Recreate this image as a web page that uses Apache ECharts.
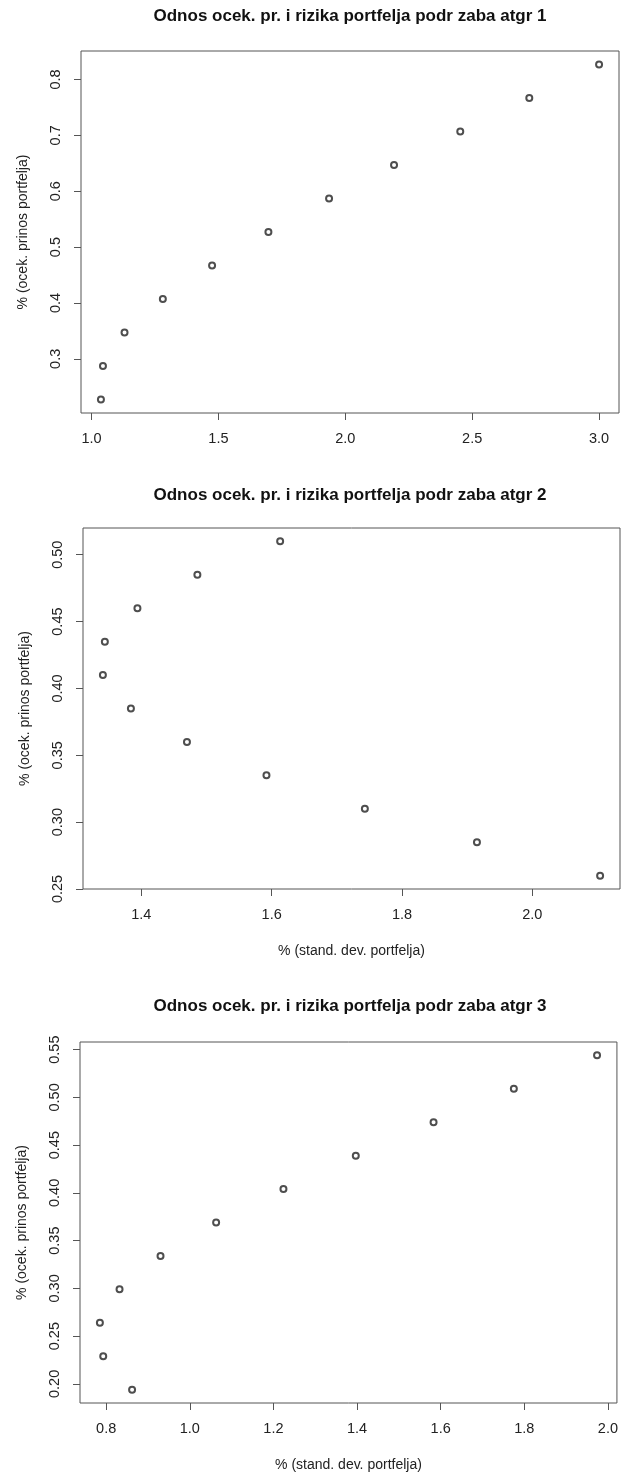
<!DOCTYPE html>
<html>
<head>
<meta charset="utf-8">
<script src="https://cdn.jsdelivr.net/npm/echarts@6/dist/echarts.min.js"></script>
<style>
  html, body { margin: 0; padding: 0; background: #fff; }
  #chart { width: 621px; height: 1476px; }
</style>
</head>
<body>
<div id="chart"></div>
<script>
// podaci ocitani sa slike (std. dev. -> ocek. prinos)
const titles = [
  "Odnos ocek. pr. i rizika portfelja podr zaba atgr 1",
  "Odnos ocek. pr. i rizika portfelja podr zaba atgr 2",
  "Odnos ocek. pr. i rizika portfelja podr zaba atgr 3",
];
const xName = "% (stand. dev. portfelja)";
const yName = "% (ocek. prinos portfelja)";

const sd1 = [1.037, 1.045, 1.130, 1.281, 1.475, 1.697, 1.936, 2.192, 2.453, 2.725, 3.000];
const ret1 = [0.227, 0.287, 0.347, 0.407, 0.467, 0.527, 0.587, 0.647, 0.707, 0.767, 0.827];

const sd2 = [2.104, 1.915, 1.743, 1.592, 1.470, 1.384, 1.341, 1.344, 1.394, 1.486, 1.613];
const ret2 = [0.260, 0.285, 0.310, 0.335, 0.360, 0.385, 0.410, 0.435, 0.460, 0.485, 0.510];

const sd3 = [0.862, 0.793, 0.785, 0.832, 0.930, 1.063, 1.224, 1.397, 1.583, 1.775, 1.974];
const ret3 = [0.194, 0.229, 0.264, 0.299, 0.334, 0.369, 0.404, 0.439, 0.474, 0.509, 0.544];

// tick labels
const xTicks1 = [1.0, 1.5, 2.0, 2.5, 3.0];
const yTicks1 = [0.3, 0.4, 0.5, 0.6, 0.7, 0.8];
const xTicks2 = [1.4, 1.6, 1.8, 2.0];
const yTicks2 = [0.25, 0.30, 0.35, 0.40, 0.45, 0.50];
const xTicks3 = [0.8, 1.0, 1.2, 1.4, 1.6, 1.8, 2.0];
const yTicks3 = [0.20, 0.25, 0.30, 0.35, 0.40, 0.45, 0.50, 0.55];

const panels = [
  { sd: sd1, ret: ret1, xt: xTicks1, yt: yTicks1, xd: 1, yd: 1, grid: { left: 81, top: 51, width: 538, height: 362 }, titleTop: 8, xLab: false },
  { sd: sd2, ret: ret2, xt: xTicks2, yt: yTicks2, xd: 1, yd: 2, grid: { left: 83, top: 528, width: 537, height: 361 }, titleTop: 487, xLab: true },
  { sd: sd3, ret: ret3, xt: xTicks3, yt: yTicks3, xd: 1, yd: 2, grid: { left: 80, top: 1042, width: 538, height: 361 }, titleTop: 998, xLab: true },
];

// R-style range: data extent plus 4% on each side
function rRange(arr) {
  const lo = Math.min(...arr), hi = Math.max(...arr);
  const pad = (hi - lo) * 0.04;
  return [lo - pad, hi + pad];
}

const font = "Liberation Sans, Arial, sans-serif";
const boxColor = "#555";

const chart = echarts.init(document.getElementById("chart"), null, { renderer: "canvas" });

let option = {
  animation: false,
  backgroundColor: "#fff",
  title: [],
  grid: [],
  xAxis: [],
  yAxis: [],
  series: [],
};

panels.forEach((p, i) => {
  const xr = rRange(p.sd);
  const yr = rRange(p.ret);
  option.title.push({
    text: titles[i],
    left: 350,
    top: p.titleTop,
    textAlign: "center",
    padding: 0,
    textStyle: { fontFamily: font, fontSize: 17, fontWeight: "bold", color: "#111" },
  });
  option.grid.push(Object.assign({ show: true, borderColor: boxColor, borderWidth: 1, backgroundColor: "transparent" }, p.grid));
  option.xAxis.push({
    gridIndex: i,
    type: "value",
    min: xr[0],
    max: xr[1],
    name: p.xLab ? xName : "",
    nameLocation: "middle",
    nameGap: 55,
    nameTextStyle: { fontFamily: font, fontSize: 14, color: "#222" },
    axisLine: { show: false },
    splitLine: { show: false },
    axisTick: { show: true, length: 7, lineStyle: { color: boxColor }, customValues: p.xt },
    axisLabel: {
      customValues: p.xt,
      margin: 18,
      fontFamily: font,
      fontSize: 14.5,
      color: "#222",
      formatter: (v) => v.toFixed(p.xd),
    },
  });
  option.yAxis.push({
    gridIndex: i,
    type: "value",
    min: yr[0],
    max: yr[1],
    name: yName,
    nameLocation: "middle",
    nameGap: 51,
    nameRotate: 90,
    nameTextStyle: { fontFamily: font, fontSize: 14, color: "#222" },
    axisLine: { show: false },
    splitLine: { show: false },
    axisTick: { show: true, length: 7, lineStyle: { color: boxColor }, customValues: p.yt },
    axisLabel: {
      customValues: p.yt,
      rotate: 90,
      margin: 18,
      fontFamily: font,
      fontSize: 14.5,
      color: "#222",
      formatter: (v) => v.toFixed(p.yd),
    },
  });
  option.series.push({
    type: "scatter",
    xAxisIndex: i,
    yAxisIndex: i,
    symbol: "emptyCircle",
    symbolSize: 6,
    itemStyle: { color: "#222", borderColor: "#222", borderWidth: 0.8 },
    data: p.sd.map((x, k) => [x, p.ret[k]]),
  });
});

chart.setOption(option);
</script>
</body>
</html>
